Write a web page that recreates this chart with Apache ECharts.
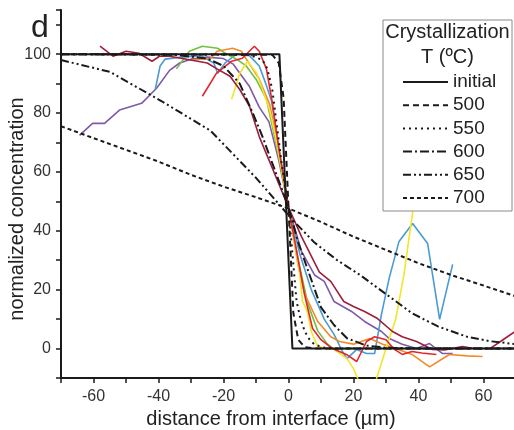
<!DOCTYPE html>
<html><head><meta charset="utf-8">
<script src="https://cdn.jsdelivr.net/npm/echarts@6/dist/echarts.min.js"></script>
<style>html,body{margin:0;padding:0;background:#fff}#c{width:514px;height:430px}</style>
</head><body><div id="c"></div>
<script>
// x ticks / y ticks
var xTicks = [-60, -40, -20, 0, 20, 40, 60];
var yTicks = [0, 20, 40, 60, 80, 100];
var legendNames = ['initial', '500', '550', '600', '650', '700'];

// theoretical profiles [distance, concentration]
var initialProfile = [[-70,100],[-2.8,100],[1.2,0],[70,0]];
var t500 = [[-70,100],[-5,99.8],[-3,97],[-1.5,85],[0,48],[1.5,12],[3,3],[5,0.5],[8,0],[70,0]];
var t550 = [[-70,100],[-12,99.8],[-8,98],[-6.5,95],[-5,88],[-3.5,75],[-2,62],[0,48],[2,22],[2.5,16],[3.5,11],[5,5.8],[6.5,3],[8,1.4],[11,0.3],[15,0],[70,0]];
var t600 = [[-70,100],[-35,99.8],[-25,98.5],[-20,96],[-15,90],[-11,80],[-8,72],[-4,60],[0,48],[3,36],[6.5,25],[10,14],[14,8],[18,3.5],[24,1],[30,0.3],[40,0],[70,0]];
var t650 = [[-70,98],[-55,94],[-39,84],[-24,74],[-10,58],[1,44],[8,36],[15,30],[22,25],[30,18.5],[38,12],[46,7.5],[55,4],[62,2.5],[70,1.5]];
var t700 = [[-70,75.5],[-60,71.5],[-50,67.5],[-40,63.5],[-30,59],[-20,55],[-10,51.4],[0,47.6],[10,43],[20,38],[30,33.5],[40,29],[50,25],[60,21.4],[70,17.7]];

// measured profiles
var purple = [[-64.3,72.4],[-60.3,76.5],[-56.6,76.5],[-52,81],[-45.2,83.3],[-40.6,88.4],[-36.6,94.5],[-33.5,97],[-30,98.3],[-25,99],[-20,98.5],[-17,96.6],[-12,89],[-9,82],[-6,77],[-3,64],[0,48],[4,33],[8,25],[11,22.8],[14,16],[19.4,12.6],[23.4,9.2],[28.6,5.8],[31,3.4],[35,1.5],[39.4,0],[43.4,1.7],[47.4,-1.7],[50.5,-1.7]];
var blue = [[-41,88],[-39.5,96],[-38,98.3],[-33,99],[-27,99.5],[-23,97],[-21.8,93.5],[-19.5,97],[-16,100],[-12,99.5],[-9,96],[-7,90],[-5.2,84],[-3.5,72],[0,48],[3.5,32],[7,20],[9,15],[11,10],[14,4.8],[16.6,-1],[18,-3.4],[21,-0.3],[24,-1.7],[26.5,-1.7],[28.6,11.6],[31,24],[34,36.4],[38.2,42.5],[42.8,35.7],[46.5,9.9],[50.5,28.6]];
var green = [[-34.5,95],[-30.5,101],[-26.5,102.7],[-21.8,102],[-19,100],[-16,98.3],[-13,96],[-10,91.5],[-6.8,84.7],[-3.5,68],[0,48],[3,30],[6,15],[9,6],[12,1.5],[14,-0.3],[18,0],[22,0]];
var orange = [[-30,98],[-24,98.5],[-22,101],[-17.2,102],[-14.5,101],[-12,96.6],[-9,91.5],[-5.8,83],[-3,68],[0,48],[3,28],[5,18.4],[9,9.2],[13,4],[15.7,2.4],[20,1.5],[25,3.4],[29,1.5],[33,0],[38,-2],[43.4,-6.2],[49.5,-2],[55,-2.5],[59.7,-2.7]];
var yellow = [[-17.5,84.7],[-15,93.5],[-12.6,97.5],[-9.8,93.5],[-8,88],[-5.8,81],[-4,72],[0,48],[3.4,26],[4.3,16],[5.8,12.6],[7,5.8],[9,0.7],[14,-0.3],[18,-3.4],[20,-6.8],[22,-12],[26.5,-12],[27,-10.5],[30,0],[33,10],[35.5,25],[38.3,47]];
var red = [[-26.5,85.7],[-22.2,93.5],[-17.5,97.6],[-14.2,98.6],[-10.5,102.7],[-9,101],[-6.8,95],[-4.9,83],[-3,68],[0,48],[3,30],[5,18],[7.4,6.8],[10,3],[13.5,0],[17.8,-2],[21,-4.4],[24,2.4],[26.5,4],[28.6,3.4],[30,3],[32.6,-0.3],[35,-2],[38,-1],[41,-1.5],[45.5,-2]];
var maroon = [[-58,102.7],[-54,99.3],[-50,101],[-46,100.3],[-42,97.6],[-39.7,99.3],[-36.6,99.3],[-31.4,98.3],[-25,97],[-22,95],[-18,92.5],[-15,88],[-12,82.3],[-9,72],[-6,64],[-3,56],[0,48],[4,38],[9.5,26],[13,22.8],[17,16],[20,14.3],[23.4,12.6],[27.4,10.2],[32,5.8],[35,4],[39.4,2.4],[44.3,-0.3],[48,-0.5],[53.5,0.7],[57,0],[62,0],[66,3],[70,6]];

var FONT = '"Liberation Sans", Arial, sans-serif';
var chart = echarts.init(document.getElementById('c'), null, {renderer:'canvas'});

function measured(name, data, color) {
  return {name:name, type:'line', data:data, symbol:'none', clip:true, z:2,
    lineStyle:{color:color, width:1.6}, itemStyle:{color:color}, silent:true};
}
function theory(name, data, dash, width) {
  return {name:name, type:'line', data:data, symbol:'none', clip:true, z:3,
    lineStyle:{color:'#1a1a1a', width:width||2, type:dash}, itemStyle:{color:'#1a1a1a'}, silent:true};
}

chart.setOption({
  animation:false,
  backgroundColor:'#fff',
  grid:{left:61, right:-2, top:10, bottom:52, containLabel:false, outerBoundsMode:'none'},
  xAxis:{type:'value', min:-70, max:70, interval:10,
    name:'distance from interface (µm)', nameLocation:'middle', nameGap:31,
    nameTextStyle:{fontFamily:FONT, fontSize:20, color:'#222', padding:[0,35,0,0]},
    axisLine:{show:true, onZero:false, lineStyle:{color:'#1a1a1a', width:2}},
    axisTick:{show:true, inside:false, length:5, lineStyle:{color:'#1a1a1a', width:1.5}},
    axisLabel:{fontFamily:FONT, fontSize:16, color:'#333', margin:11,
      formatter:function(v){return xTicks.indexOf(v)>=0 ? String(v) : '';}},
    splitLine:{show:false}},
  yAxis:{type:'value', min:-10, max:115, interval:10,
    name:'normalized concentration', nameLocation:'middle', nameGap:34, nameRotate:90, nameMoveOverlap:false,
    nameTextStyle:{fontFamily:FONT, fontSize:20, color:'#222', padding:[0,30,0,0]},
    axisLine:{show:true, onZero:false, lineStyle:{color:'#1a1a1a', width:2}},
    axisTick:{show:true, inside:false, length:5, lineStyle:{color:'#1a1a1a', width:1.5}},
    axisLabel:{fontFamily:FONT, fontSize:16, color:'#333', margin:10,
      formatter:function(v){return yTicks.indexOf(v)>=0 ? String(v) : '';}},
    splitLine:{show:false}},
  legend:{data:legendNames, orient:'vertical', left:402, top:72.5, itemWidth:45, itemHeight:12, itemGap:4.2,
    textStyle:{fontFamily:FONT, fontSize:19, color:'#222', lineHeight:19},
    itemStyle:{opacity:0},
    padding:0, selectedMode:false, z:20},
  graphic:[
    {type:'rect', shape:{x:383, y:20, width:129, height:191}, style:{fill:'#fff', stroke:'#8a8a8a', lineWidth:1}, z:10},
    {type:'text', x:447.5, y:32, style:{text:'Crystallization', font:'20px '+FONT, fill:'#222', textAlign:'center', textVerticalAlign:'middle'}, z:11},
    {type:'text', x:447.5, y:57.5, style:{text:'T (ºC)', font:'20px '+FONT, fill:'#222', textAlign:'center', textVerticalAlign:'middle'}, z:11},
    {type:'text', x:31, y:28, style:{text:'d', font:'32px '+FONT, fill:'#222', textVerticalAlign:'middle'}, z:11}
  ],
  series:[
    measured('m_purple', purple, '#7e5aa8'),
    measured('m_blue', blue, '#4a9bd3'),
    measured('m_green', green, '#72bf47'),
    measured('m_orange', orange, '#f28a2a'),
    measured('m_yellow', yellow, '#f2e52a'),
    measured('m_red', red, '#e3262c'),
    measured('m_maroon', maroon, '#9e1f3c'),
    theory('initial', initialProfile, 'solid', 2),
    theory('500', t500, [6,4], 2),
    theory('550', t550, [2,4], 2),
    theory('600', t600, [9,3,2,3], 2),
    theory('650', t650, [8,3,2,3,2,3], 2),
    theory('700', t700, [4,3], 2)
  ]
});
</script></body></html>
